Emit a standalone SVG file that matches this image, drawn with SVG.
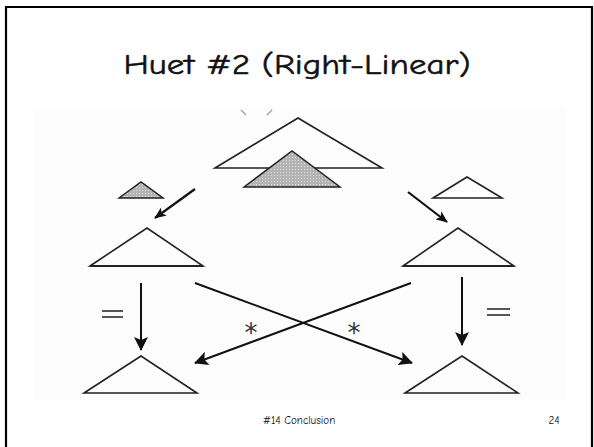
<svg xmlns="http://www.w3.org/2000/svg" width="594" height="447" viewBox="0 0 594 447">
  <defs>
    <pattern id="dots" width="3" height="3" patternUnits="userSpaceOnUse">
      <rect width="3" height="3" fill="#b4b4b4"/>
      <rect x="1" y="1" width="1" height="1" fill="#e0e0e0"/>
    </pattern>
    <marker id="head" viewBox="0 0 12 10" refX="11" refY="5" markerWidth="12" markerHeight="10" markerUnits="userSpaceOnUse" orient="auto">
      <path d="M0,0 L12,5 L0,10 L3,5 Z" fill="#111"/>
    </marker>
    <marker id="headBig" viewBox="0 0 14 14" refX="13" refY="7" markerWidth="14" markerHeight="14" markerUnits="userSpaceOnUse" orient="auto">
      <path d="M0,0 L14,7 L0,14 L3,7 Z" fill="#111"/>
    </marker>
  </defs>
  <style>
    .tri { fill: none; stroke: #222; stroke-width: 1.6; stroke-linejoin: miter; }
    .shade { fill: url(#dots); stroke: #222; stroke-width: 1.5; }
    .base { stroke: #222; stroke-width: 2.2; }
    .arr { stroke: #111; stroke-width: 2.2; fill: none; marker-end: url(#head); }
    .arrv { stroke: #111; stroke-width: 2; fill: none; marker-end: url(#headBig); }
    .eq { stroke: #444; stroke-width: 1.8; }
    .lbl { font-family: "Comic Sans MS", "Comic Neue", "DejaVu Sans", sans-serif; fill: #111; }
    .title { stroke: #111; stroke-width: 0.5; }
    .star { font-family: "DejaVu Sans", sans-serif; fill: #333; }
  </style>

  <!-- slide frame and picture area -->
  <rect x="0" y="0" width="594" height="447" fill="#fff"/>
  <path d="M6,452 V7 H592 V452" fill="none" stroke="#000" stroke-width="2.2"/>
  <rect x="33" y="108" width="533" height="294" fill="#fdfdfd"/>

  <!-- title -->
  <text class="lbl title" x="297" y="74" font-size="29" text-anchor="middle" textLength="347" lengthAdjust="spacingAndGlyphs">Huet #2 (Right-Linear)</text>

  <!-- top: rule tree with overlapping subterm -->
  <g id="top-tree">
    <path d="M241,110 L246,115 M272,110 L267,115" stroke="#999" stroke-width="1.2" fill="none"/>
    <path class="tri" d="M215,168 L298,118 L382,168 Z"/>
    <path class="shade" d="M244,187 L292,151 L340,187 Z"/>
  </g>

  <g id="left-subterm">
    <path class="shade" d="M119,198 L141,182 L163,198 Z"/>
  </g>

  <g id="right-subterm">
    <path class="tri" d="M433,198 L467,177 L502,198 Z"/>
  </g>

  <g id="mid-left">
    <path class="tri" d="M90,266 L147,228 L203,266 Z"/>
    <line class="base" x1="90" y1="266" x2="203" y2="266"/>
  </g>

  <g id="mid-right">
    <path class="tri" d="M403,266 L458,228 L514,266 Z"/>
    <line class="base" x1="403" y1="266" x2="514" y2="266"/>
  </g>

  <g id="bottom-left">
    <path class="tri" d="M84,393 L141,356 L197,393 Z"/>
  </g>

  <g id="bottom-right">
    <path class="tri" d="M405,393 L462,356 L518,393 Z"/>
  </g>

  <!-- connectors -->
  <g id="connectors">
    <line class="arr" x1="195" y1="189" x2="155" y2="218"/>
    <line class="arr" x1="408" y1="192" x2="447" y2="222"/>
    <line class="arrv" x1="141" y1="283" x2="141" y2="350"/>
    <line class="arrv" x1="462" y1="277" x2="462" y2="345"/>
    <line class="arrv" x1="195" y1="283" x2="412" y2="363"/>
    <line class="arrv" x1="411" y1="283" x2="195" y2="363"/>
    <!-- edge labels -->
    <line class="eq" x1="102" y1="311" x2="123" y2="311"/>
    <line class="eq" x1="102" y1="317" x2="123" y2="317"/>
    <line class="eq" x1="487" y1="309" x2="510" y2="309"/>
    <line class="eq" x1="487" y1="315" x2="510" y2="315"/>
    <text class="star" x="251" y="342" font-size="26" text-anchor="middle">*</text>
    <text class="star" x="354" y="342" font-size="26" text-anchor="middle">*</text>
  </g>

  <!-- footer -->
  <text class="lbl" x="299" y="424" font-size="11" text-anchor="middle">#14 Conclusion</text>
  <text class="lbl" x="554" y="424" font-size="11" text-anchor="middle">24</text>
</svg>
